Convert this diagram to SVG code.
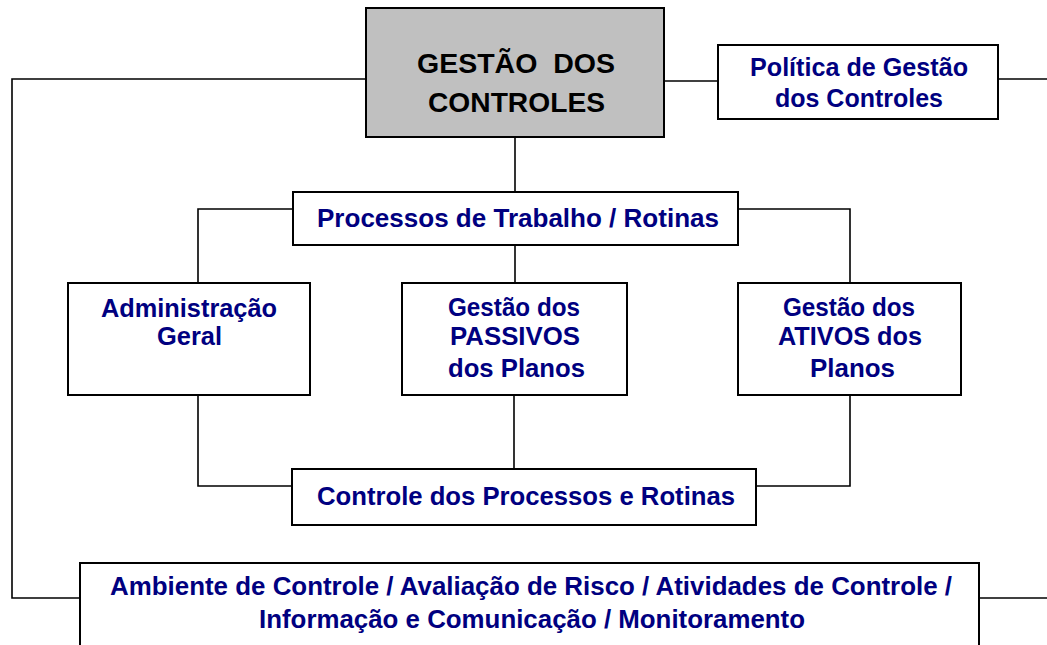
<svg xmlns="http://www.w3.org/2000/svg" width="1047" height="645" viewBox="0 0 1047 645">
<style>
.box{fill:#fff;stroke:#000;stroke-width:2}
.main{fill:#c0c0c0;stroke:#000;stroke-width:2}
.conn{fill:none;stroke:#000;stroke-width:1.6}
.t{font-family:"Liberation Sans",Arial,sans-serif;font-weight:bold;font-size:25px;fill:#000080}
.tm{font-family:"Liberation Sans",Arial,sans-serif;font-weight:bold;font-size:28px;fill:#000}
</style>
<rect width="1047" height="645" fill="#fff"/>
<g id="connectors">
<path class="conn" d="M366,79 H12 V598 H82"/>
<path class="conn" d="M664,81 H718"/>
<path class="conn" d="M998,79 H1047"/>
<path class="conn" d="M515,137 V192"/>
<path class="conn" d="M293,209 H198 V283"/>
<path class="conn" d="M738,209 H850 V283"/>
<path class="conn" d="M515,245 V283"/>
<path class="conn" d="M198,395 V486 H292"/>
<path class="conn" d="M514,395 V469"/>
<path class="conn" d="M850,395 V486 H756"/>
<path class="conn" d="M979,598 H1047"/>
</g>
<g id="gestao-controles">
<rect class="main" x="366" y="8" width="298" height="129"/>
<text class="tm" x="417" y="73" textLength="198" lengthAdjust="spacingAndGlyphs" xml:space="preserve">GESTÃO  DOS</text>
<text class="tm" x="428" y="112" textLength="177" lengthAdjust="spacingAndGlyphs">CONTROLES</text>
</g>
<g id="politica">
<rect class="box" x="718" y="45" width="280" height="74"/>
<text class="t" x="750" y="76" textLength="218" lengthAdjust="spacingAndGlyphs">Política de Gestão</text>
<text class="t" x="775" y="107" textLength="168" lengthAdjust="spacingAndGlyphs">dos Controles</text>
</g>
<g id="processos">
<rect class="box" x="293" y="192" width="445" height="53"/>
<text class="t" x="317" y="227" textLength="402" lengthAdjust="spacingAndGlyphs">Processos de Trabalho / Rotinas</text>
</g>
<g id="administracao">
<rect class="box" x="68" y="283" width="242" height="112"/>
<text class="t" x="101" y="317" textLength="176" lengthAdjust="spacingAndGlyphs">Administração</text>
<text class="t" x="157" y="345" textLength="65" lengthAdjust="spacingAndGlyphs">Geral</text>
</g>
<g id="passivos">
<rect class="box" x="402" y="283" width="225" height="112"/>
<text class="t" x="448" y="316" textLength="132" lengthAdjust="spacingAndGlyphs">Gestão dos</text>
<text class="t" x="450" y="345" textLength="130" lengthAdjust="spacingAndGlyphs">PASSIVOS</text>
<text class="t" x="448" y="377" textLength="137" lengthAdjust="spacingAndGlyphs">dos Planos</text>
</g>
<g id="ativos">
<rect class="box" x="738" y="283" width="223" height="112"/>
<text class="t" x="783" y="316" textLength="132" lengthAdjust="spacingAndGlyphs">Gestão dos</text>
<text class="t" x="778" y="345" textLength="144" lengthAdjust="spacingAndGlyphs">ATIVOS dos</text>
<text class="t" x="810" y="377" textLength="85" lengthAdjust="spacingAndGlyphs">Planos</text>
</g>
<g id="controle">
<rect class="box" x="292" y="469" width="464" height="56"/>
<text class="t" x="317" y="505" textLength="418" lengthAdjust="spacingAndGlyphs">Controle dos Processos e Rotinas</text>
</g>
<g id="ambiente">
<rect class="box" x="80" y="563" width="899" height="100"/>
<text class="t" x="110" y="595" textLength="842" lengthAdjust="spacingAndGlyphs">Ambiente de Controle / Avaliação de Risco / Atividades de Controle /</text>
<text class="t" x="259" y="628" textLength="546" lengthAdjust="spacingAndGlyphs">Informação e Comunicação / Monitoramento</text>
</g>
</svg>
